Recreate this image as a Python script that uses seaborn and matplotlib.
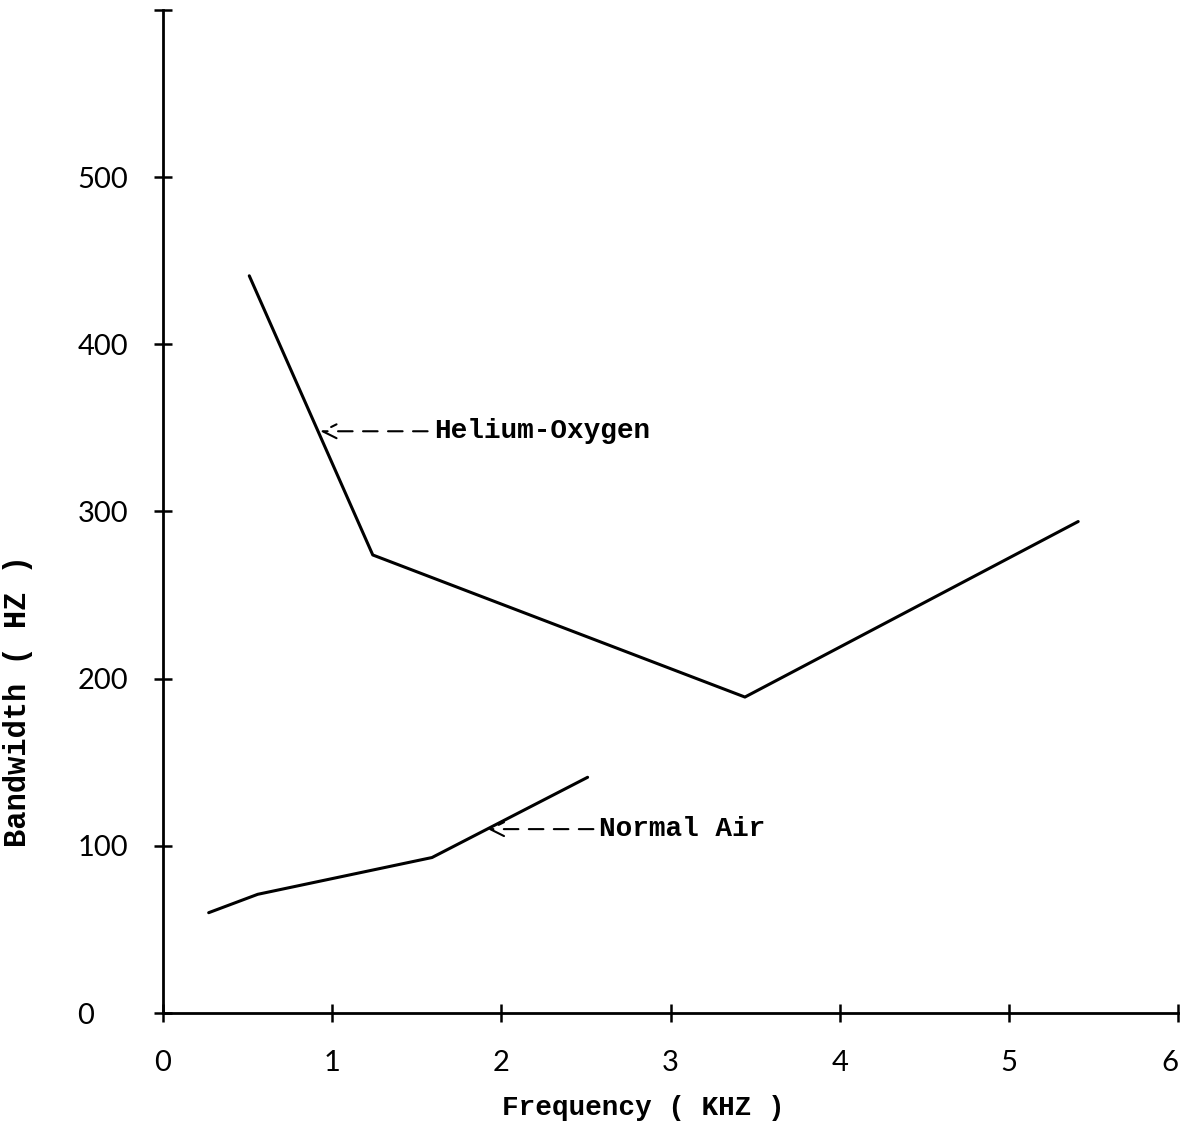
import numpy as np
import pandas as pd
import seaborn as sns
import matplotlib
matplotlib.use("Agg")
import matplotlib.pyplot as plt

# values
helium_freq = [0.51, 1.24, 3.44, 5.41]
helium_bw = [441, 274, 189, 294]
air_freq = [0.27, 0.56, 1.59, 2.51]
air_bw = [60, 71, 93, 141]

x_ticks = [0, 1, 2, 3, 4, 5, 6]
y_ticks = [0, 100, 200, 300, 400, 500, 600]
y_tick_labels = ["0", "100", "200", "300", "400", "500", ""]

df = pd.concat([
    pd.DataFrame({"freq": helium_freq, "bw": helium_bw, "gas": "Helium-Oxygen"}),
    pd.DataFrame({"freq": air_freq, "bw": air_bw, "gas": "Normal Air"}),
])

sns.set_style("ticks")
plt.rcParams['font.family'] = ['Lato', 'DejaVu Sans']
plt.rcParams['text.color'] = 'black'
plt.rcParams['axes.labelcolor'] = 'black'

fig = plt.figure(figsize=(11.82, 11.28), dpi=100)
ax = fig.add_axes([163/1182, 115/1128, 1015/1182, 1003/1128])

sns.lineplot(data=df, x="freq", y="bw", units="gas", estimator=None,
             color="black", lw=2.2, sort=False, ax=ax, legend=False)

ax.set_xlim(0, 6)
ax.set_ylim(0, 600)
ax.set_xticks(x_ticks)
ax.set_yticks(y_ticks)
ax.set_yticklabels(y_tick_labels)
sns.despine(ax=ax)
for s in ["left", "bottom"]:
    ax.spines[s].set_linewidth(2)
    ax.spines[s].set_color("black")
ax.tick_params(direction="inout", length=13, width=1.8, colors="black",
               labelsize=21)
ax.tick_params(axis="x", pad=20)
ax.tick_params(axis="y", pad=55)
plt.setp(ax.get_yticklabels(), ha="left")
ax.get_xticklabels()[-1].set_ha("right")

mono = dict(family="Liberation Mono", fontweight="bold", fontsize=20, color="black")
ax.set_xlabel("Frequency ( KHZ )", **mono)
ax.set_ylabel("Bandwidth ( HZ )", family="Liberation Mono",
              fontweight="bold", fontsize=22, color="black")
ax.xaxis.set_label_coords(0.473, -0.082)
ax.yaxis.set_label_coords(-0.128, 0.311)

arrow = dict(arrowstyle="->,head_length=0.5,head_width=0.25", color="black",
             lw=1.5, ls=(0, (7, 5)), shrinkA=2, shrinkB=0)
ax.annotate("Helium-Oxygen", xy=(0.93, 348), xytext=(1.60, 348),
            va="center", ha="left", arrowprops=arrow, **mono)
ax.annotate("Normal Air", xy=(1.92, 110), xytext=(2.58, 110),
            va="center", ha="left", arrowprops=arrow, **mono)

fig.savefig("out.png", dpi=100)
